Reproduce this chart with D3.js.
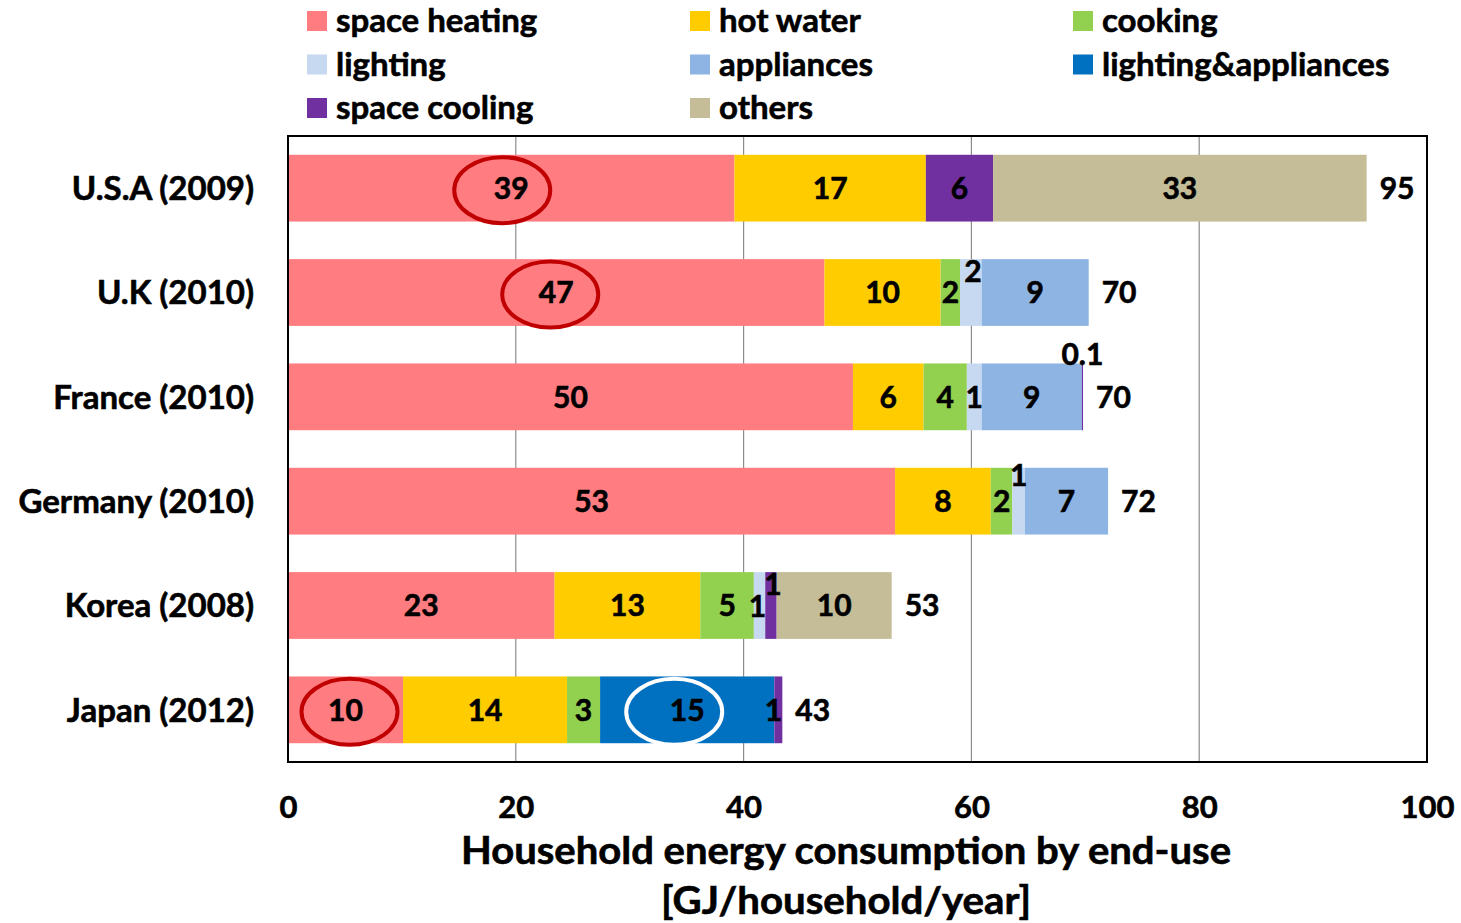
<!DOCTYPE html>
<html>
<head>
<meta charset="utf-8">
<script src="https://cdn.jsdelivr.net/npm/d3@7"></script>
<style>
  body { margin: 0; background: #fff; }
  svg text { font-family: Lato, 'Open Sans', sans-serif; font-weight: bold; fill: #000; stroke: #000; stroke-width: 0.6px; }
</style>
</head>
<body>
<svg id="chart"></svg>
<script>
// categories (top to bottom)
const countries = ['U.S.A (2009)', 'U.K (2010)', 'France (2010)', 'Germany (2010)', 'Korea (2008)', 'Japan (2012)'];
const endUses = ['space heating', 'hot water', 'cooking', 'lighting', 'appliances', 'lighting&appliances', 'space cooling', 'others'];
const endUseColors = ['#FF7C80', '#FFCC00', '#92D050', '#C6D9F1', '#8EB4E3', '#0070C0', '#7030A0', '#C4BD97'];

// GJ/household/year, one value per country
const spaceHeating       = [39.2, 47.1, 49.6, 53.3, 23.4, 10.1];
const hotWater           = [16.8, 10.2, 6.2, 8.4, 12.8, 14.4];
const cooking            = [0, 1.7, 3.8, 1.9, 4.7, 2.9];
const lighting           = [0, 1.9, 1.3, 1.1, 1.0, 0];
const appliances         = [0, 9.4, 8.8, 7.3, 0, 0];
const lightingAppliances = [0, 0, 0, 0, 0, 15.3];
const spaceCooling       = [5.9, 0, 0.1, 0, 1.0, 0.7];
const others             = [32.8, 0, 0, 0, 10.1, 0];

const xTicks = [0, 20, 40, 60, 80, 100];

const seriesValues = [spaceHeating, hotWater, cooking, lighting, appliances, lightingAppliances, spaceCooling, others];

const W = 1461, H = 923;
const svg = d3.select('#chart').attr('width', W).attr('height', H);

const x = d3.scaleLinear().domain([0, 100]).range([288, 1427]);
const y = d3.scaleBand().domain(countries).range([136, 762]).paddingInner(0.36).paddingOuter(0.18);
const color = d3.scaleOrdinal().domain(endUses).range(endUseColors);

const table = countries.map((c, i) => {
  const row = { country: c };
  endUses.forEach((k, j) => { row[k] = seriesValues[j][i]; });
  return row;
});
const stacked = d3.stack().keys(endUses)(table);

// gridlines
svg.append('g').selectAll('line').data(xTicks.slice(1, -1)).join('line')
  .attr('x1', d => x(d)).attr('x2', d => x(d))
  .attr('y1', 136).attr('y2', 762)
  .attr('stroke', '#8c8c8c').attr('stroke-width', 1.2);

// bars
const layers = svg.append('g').selectAll('g').data(stacked).join('g')
  .attr('fill', d => color(d.key));
layers.selectAll('rect').data(d => d.filter(p => p[1] - p[0] > 0)).join('rect')
  .attr('x', d => x(d[0]))
  .attr('width', d => x(d[1]) - x(d[0]))
  .attr('y', d => y(d.data.country))
  .attr('height', y.bandwidth());

// plot frame
svg.append('rect').attr('x', 288).attr('y', 136).attr('width', 1427 - 288).attr('height', 762 - 136)
  .attr('fill', 'none').attr('stroke', '#000').attr('stroke-width', 2);

// segment labels (small segments get nudged like in the original)
const nudge = {
  'U.K (2010)|lighting': { dx: 2, dy: -21 },
  'France (2010)|space cooling': { dx: 0, dy: -43 },
  'Germany (2010)|lighting': { dx: 0, dy: -26 },
  'Korea (2008)|space cooling': { dx: 2, dy: -21 },
  'Korea (2008)|lighting': { dx: -2, dy: 1 },
  'Japan (2012)|space cooling': { dx: -5, dy: 0 }
};
const fmt = v => v < 0.5 ? d3.format('.1f')(v) : String(Math.round(v));

const labelData = [];
stacked.forEach(layer => {
  layer.forEach(p => {
    const v = p[1] - p[0];
    if (v <= 0) return;
    const n = nudge[p.data.country + '|' + layer.key] || { dx: 0, dy: 0 };
    labelData.push({
      country: p.data.country, key: layer.key, v,
      cx: x((p[0] + p[1]) / 2) + n.dx,
      cy: y(p.data.country) + y.bandwidth() / 2 + n.dy
    });
  });
});

svg.append('g').selectAll('text').data(labelData).join('text')
  .attr('x', d => d.cx).attr('y', d => d.cy)
  .attr('dy', '0.36em').attr('text-anchor', 'middle')
  .style('font-size', '30px')
  .text(d => fmt(d.v));

// totals
svg.append('g').selectAll('text').data(table).join('text')
  .attr('x', d => x(d3.sum(endUses, k => d[k])) + 13)
  .attr('y', d => y(d.country) + y.bandwidth() / 2)
  .attr('dy', '0.36em')
  .style('font-size', '30px')
  .text(d => Math.round(d3.sum(endUses, k => d[k])));

// highlighted labels
const highlights = [
  { country: 'U.S.A (2009)', key: 'space heating', dx: -9, stroke: '#C00000' },
  { country: 'U.K (2010)', key: 'space heating', dx: -6, stroke: '#C00000' },
  { country: 'Japan (2012)', key: 'space heating', dx: 4, stroke: '#C00000' },
  { country: 'Japan (2012)', key: 'lighting&appliances', dx: -13, stroke: '#ffffff' }
];
svg.append('g').selectAll('ellipse').data(highlights).join('ellipse')
  .attr('cx', h => labelData.find(l => l.country === h.country && l.key === h.key).cx + h.dx)
  .attr('cy', h => y(h.country) + y.bandwidth() / 2 + 2)
  .attr('rx', 48).attr('ry', 33)
  .attr('fill', 'none').attr('stroke', h => h.stroke).attr('stroke-width', 4);

// category labels
svg.append('g').selectAll('text').data(countries).join('text')
  .attr('x', 254).attr('y', d => y(d) + y.bandwidth() / 2)
  .attr('dy', '0.36em').attr('text-anchor', 'end')
  .style('font-size', '33px')
  .text(d => d);

// x axis
const xAxis = svg.append('g').attr('transform', 'translate(0,762)')
  .call(d3.axisBottom(x).tickValues(xTicks).tickSize(0).tickPadding(0));
xAxis.select('.domain').remove();
xAxis.selectAll('text')
  .attr('y', 56).attr('dy', 0)
  .style('font-family', 'Lato, sans-serif').style('font-weight', 'bold')
  .style('font-size', '31px').attr('fill', '#000');

svg.append('text').attr('x', 846).attr('y', 864).attr('text-anchor', 'middle')
  .attr('textLength', 770).attr('lengthAdjust', 'spacingAndGlyphs')
  .style('font-size', '38px').text('Household energy consumption by end-use');
svg.append('text').attr('x', 846).attr('y', 914).attr('text-anchor', 'middle')
  .attr('textLength', 370).attr('lengthAdjust', 'spacingAndGlyphs')
  .style('font-size', '38px').text('[GJ/household/year]');

// legend, three columns
const legend = svg.append('g').selectAll('g').data(endUses).join('g')
  .attr('transform', (d, i) => `translate(${307 + (i % 3) * 383},${11 + Math.floor(i / 3) * 43.5})`);
legend.append('rect').attr('width', 20).attr('height', 20).attr('fill', d => color(d)).style('stroke', 'none');
legend.append('text').attr('x', 29).attr('y', 10).attr('dy', '0.34em')
  .style('font-size', '33px').text(d => d);
</script>
</body>
</html>
